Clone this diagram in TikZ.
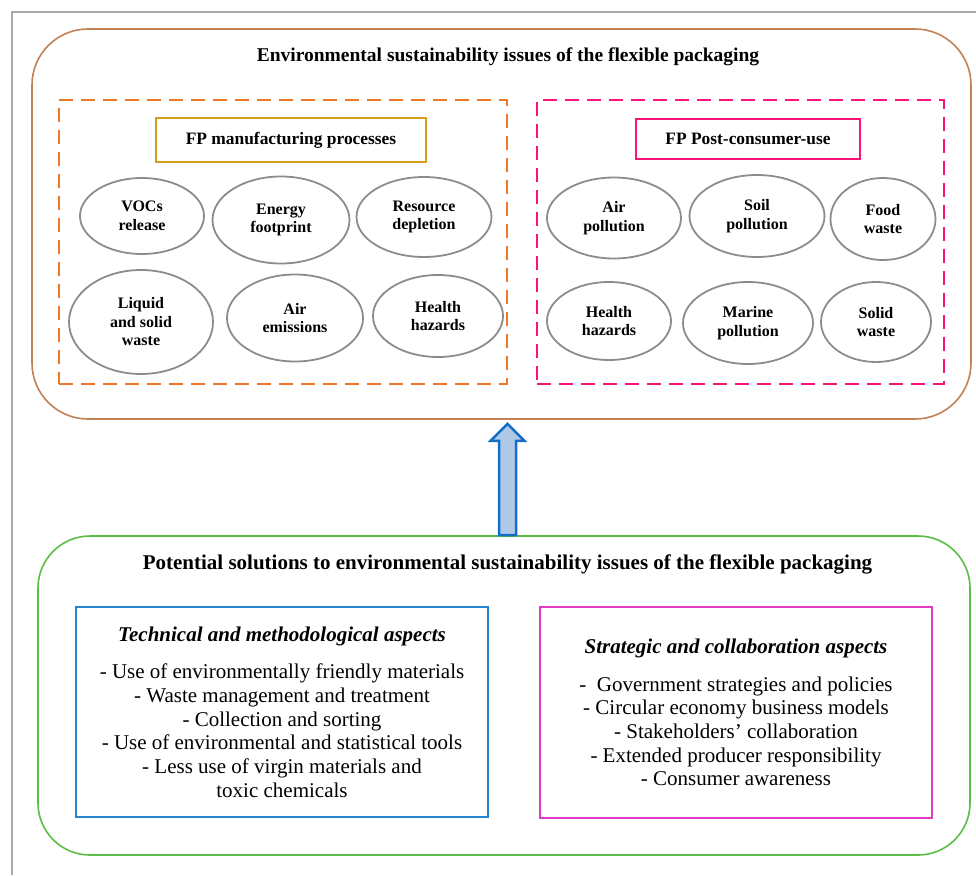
\documentclass[tikz,border=0pt]{standalone}
\usepackage{fontspec}
\setmainfont{Liberation Serif}
\usetikzlibrary{positioning,shapes.geometric,calc}

\definecolor{framegray}{RGB}{170,170,170}
\definecolor{issbrown}{RGB}{194,130,86}
\definecolor{mfgorange}{RGB}{237,120,40}
\definecolor{postpink}{RGB}{250,20,120}
\definecolor{mfggold}{RGB}{214,158,30}
\definecolor{ellgray}{RGB}{140,140,140}
\definecolor{solgreen}{RGB}{90,190,70}
\definecolor{techblue}{RGB}{40,130,210}
\definecolor{stratpink}{RGB}{225,60,200}
\definecolor{arrowblue}{RGB}{20,110,200}
\definecolor{arrowfill}{RGB}{175,200,232}

\begin{document}
\begin{tikzpicture}[x=1pt, y=-1pt, nodes = {align = center},
    bigbox/.style = {draw, line width=1.6pt, rounded corners=56pt},
    dashbox/.style = {draw, line width=2pt, dash pattern=on 14pt off 8pt},
    headbox/.style = {draw, line width=2pt, inner sep=0pt,
      font=\bfseries\fontsize{17.4}{20}\selectfont},
    issue/.style = {draw=ellgray, line width=1.8pt, ellipse, inner sep=0pt,
      font=\bfseries\fontsize{16}{18.5}\selectfont},
    aspectbox/.style = {draw, line width=2pt, inner sep=0pt,
      font=\fontsize{21}{23.7}\selectfont},
    bigtitle/.style = {font=\bfseries\fontsize{19.5}{22}\selectfont, anchor=base}]

    \useasboundingbox (0,0) rectangle (976,875);
    \draw[framegray, line width=2.5pt] (12,875) -- (12,12) -- (976,12);

    % issues of the flexible packaging
    \node (issues) [bigbox, draw=issbrown, minimum width=939pt,
    minimum height=390pt] at (501.5,224) {};
    \node (isstitle) [bigtitle] at (508,62) {Environmental sustainability
      issues of the flexible packaging};

    \node (mfg) [dashbox, draw=mfgorange, minimum width=448pt,
    minimum height=284pt] at (283,242) {};
    \node (post) [dashbox, draw=postpink, minimum width=407pt,
    minimum height=284pt] at (740.5,242) {};

    \node (mfgtitle) [headbox, draw=mfggold, minimum width=270pt,
    minimum height=44pt] at (291,140) {FP manufacturing processes};
    \node (posttitle) [headbox, draw=postpink, minimum width=224pt,
    minimum height=40pt] at (748,139) {FP Post-consumer-use};

    \node (vocs) [issue, minimum width=124pt, minimum height=76pt]
    at (142,216) {VOCs\\release};
    \node (energy) [issue, minimum width=137pt, minimum height=87pt]
    at (281,220) {Energy\\footprint};
    \node (resource) [issue, minimum width=135pt, minimum height=80pt]
    at (424,217) {Resource\\depletion};
    \node (liquid) [issue, minimum width=144pt, minimum height=104pt]
    at (141,322) {Liquid\\and solid\\waste};
    \node (airem) [issue, minimum width=136pt, minimum height=87pt]
    at (295,318) {Air\\emissions};
    \node (healthmfg) [issue, minimum width=130pt, minimum height=82pt]
    at (438,316) {Health\\hazards};

    \node (airpol) [issue, minimum width=134pt, minimum height=81pt]
    at (614,218) {Air\\pollution};
    \node (soilpol) [issue, minimum width=135pt, minimum height=82pt]
    at (757,216) {Soil\\pollution};
    \node (food) [issue, minimum width=105pt, minimum height=82pt]
    at (883,219) {Food\\waste};
    \node (healthpost) [issue, minimum width=124pt, minimum height=78pt]
    at (609,321) {Health\\hazards};
    \node (marine) [issue, minimum width=130pt, minimum height=82pt]
    at (748,323) {Marine\\pollution};
    \node (solid) [issue, minimum width=110pt, minimum height=80pt]
    at (876,322) {Solid\\waste};

    % potential solutions
    \node (solutions) [bigbox, draw=solgreen, rounded corners=52pt,
    minimum width=932pt, minimum height=319pt] at (504,695.5) {};
    \node (soltitle) [bigtitle, font=\bfseries\fontsize{21}{24}\selectfont]
    at (507.5,569) {Potential solutions to environmental sustainability
      issues of the flexible packaging};

    \node (technical) [aspectbox, draw=techblue, minimum width=412pt,
    minimum height=210pt] at (282,712) {\textbf{\textit{Technical and
          methodological aspects}}\\[14pt]
      - Use of environmentally friendly materials\\
      - Waste management and treatment\\
      - Collection and sorting\\
      - Use of environmental and statistical tools\\
      - Less use of virgin materials and\\
      toxic chemicals};

    \node (strategic) [aspectbox, draw=stratpink, minimum width=392pt,
    minimum height=211pt] at (736,712.5) {\textbf{\textit{Strategic and
          collaboration aspects}}\\[14pt]
      -~ Government strategies and policies\\
      - Circular economy business models\\
      - Stakeholders' collaboration\\
      - Extended producer responsibility\\
      - Consumer awareness};

    \coordinate (arrbase) at ([xshift=3.5pt]solutions.north);
    \coordinate (arrtip) at ([xshift=6pt,yshift=-4pt]issues.south);
    \draw[arrowblue, fill=arrowfill, line width=2.5pt, line join=miter]
    ($(arrbase)+(-8.5,0)$) -- ($(arrtip)+(-8.5,17)$) -- ($(arrtip)+(-17,17)$)
    -- (arrtip) -- ($(arrtip)+(17,17)$) -- ($(arrtip)+(8.5,17)$)
    -- ($(arrbase)+(8.5,0)$) -- cycle;
  \end{tikzpicture}
\end{document}
